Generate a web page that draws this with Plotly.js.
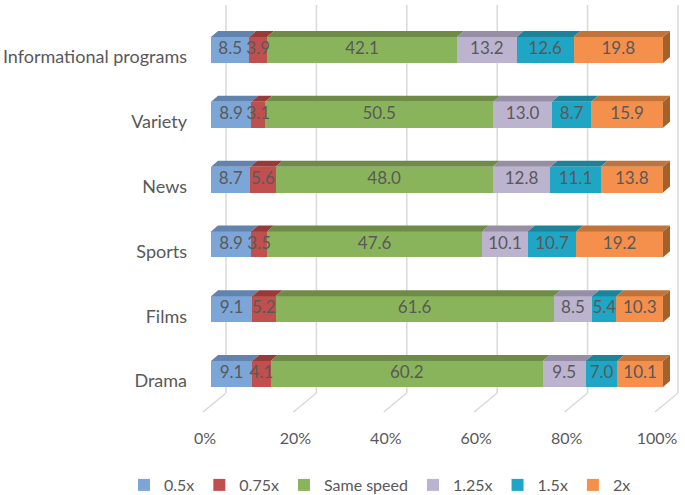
<!DOCTYPE html>
<html>
<head>
<meta charset="utf-8">
<script src="https://cdn.plot.ly/plotly-3.0.1.min.js"></script>
<style>
  html, body { margin: 0; padding: 0; background: #fff; }
  #chart { width: 685px; height: 495px; }
</style>
</head>
<body>
<div id="chart"></div>
<script>
// Data (percent of viewers per playback speed)
const categories = ['Informational programs', 'Variety', 'News', 'Sports', 'Films', 'Drama'];
const speeds = ['0.5x', '0.75x', 'Same speed', '1.25x', '1.5x', '2x'];
const speed050 = [8.5, 8.9, 8.7, 8.9, 9.1, 9.1];
const speed075 = [3.9, 3.1, 5.6, 3.5, 5.2, 4.1];
const speedSame = [42.1, 50.5, 48.0, 47.6, 61.6, 60.2];
const speed125 = [13.2, 13.0, 12.8, 10.1, 8.5, 9.5];
const speed150 = [12.6, 8.7, 11.1, 10.7, 5.4, 7.0];
const speed200 = [19.8, 15.9, 13.8, 19.2, 10.3, 10.1];
const xTicks = [0, 20, 40, 60, 80, 100];

const series = [speed050, speed075, speedSame, speed125, speed150, speed200];

// Colours: front face and darker top face
const fronts = ['#7ca6d8', '#c0504d', '#8ab45c', '#bcb3cf', '#1fa6c4', '#f48f4c'];
const tops = ['#6283ae', '#963b3a', '#6e8b48', '#958ea5', '#1e8399', '#c1733a'];
const sideColor = '#a3612c';

// Pixel geometry of the fake 3D look
const PLOT_L = 190, PLOT_T = 0, PLOT_B = 415;
const PLOT_W = 685 - PLOT_L, PLOT_H = PLOT_B - PLOT_T;
const X0PX = 211, X100PX = 663;
const k = (X100PX - X0PX) / 100;          // px per percent
const ROW = 64.8, ROW0 = 50;               // px between rows, centre of first row
const DX = 7 / k, DY = 6 / ROW;            // bar depth in data units
const BAR_W = 0.4;
const px2y = p => (p - ROW0) / ROW;

const rows = categories.map((_, i) => i);
const totals = rows.map(i => series.reduce((s, arr) => s + arr[i], 0));

const traces = series.map((vals, s) => ({
  type: 'bar',
  orientation: 'h',
  name: speeds[s],
  x: vals,
  y: rows,
  width: BAR_W,
  marker: { color: fronts[s], line: { width: 0 } },
  hoverinfo: 'skip'
}));

// value labels on the front faces
const labX = [], labY = [], labT = [];
const shapes = [];
rows.forEach(i => {
  let acc = 0;
  series.forEach((vals, s) => {
    const a = acc / totals[i] * 100;
    acc += vals[i];
    const b = acc / totals[i] * 100;
    labX.push((a + b) / 2);
    labY.push(i);
    labT.push(vals[i].toFixed(1));
    const yt = i - BAR_W / 2;
    shapes.push({
      type: 'path', xref: 'x', yref: 'y', layer: 'above',
      path: `M${a},${yt} L${b},${yt} L${b + DX},${yt - DY} L${a + DX},${yt - DY} Z`,
      fillcolor: tops[s], line: { width: 0 }
    });
    if (s === series.length - 1) {
      const yb = i + BAR_W / 2;
      shapes.push({
        type: 'path', xref: 'x', yref: 'y', layer: 'above',
        path: `M${b},${yt} L${b + DX},${yt - DY} L${b + DX},${yb - DY} L${b},${yb} Z`,
        fillcolor: sideColor, line: { width: 0 }
      });
    }
  });
});

// back-wall gridlines and floor diagonals
const backOff = 15 / k, frontOff = -8 / k;
xTicks.forEach(v => {
  shapes.push({
    type: 'line', xref: 'x', yref: 'y', layer: 'below',
    x0: v + backOff, x1: v + backOff, y0: px2y(5), y1: px2y(393),
    line: { color: '#d9d9d9', width: 1.5 }
  });
  shapes.push({
    type: 'line', xref: 'x', yref: 'y', layer: 'below',
    x0: v + backOff, x1: v + frontOff, y0: px2y(393), y1: px2y(412),
    line: { color: '#d9d9d9', width: 1.5 }
  });
});

traces.push({
  type: 'scatter', mode: 'text', x: labX, y: labY, text: labT,
  textfont: { family: 'Lato, sans-serif', size: 17, color: '#595959' },
  showlegend: false, hoverinfo: 'skip', cliponaxis: false
});

const layout = {
  width: 685, height: 495,
  margin: { l: PLOT_L, r: 0, t: PLOT_T, b: 495 - PLOT_B, autoexpand: false },
  paper_bgcolor: '#fff', plot_bgcolor: '#fff',
  font: { family: 'Lato, sans-serif', color: '#595959' },
  barmode: 'stack',
  barnorm: 'percent',
  showlegend: true,
  xaxis: {
    range: [-(X0PX - PLOT_L) / k, (685 - X0PX) / k],
    tickvals: xTicks, ticktext: xTicks.map(v => v + '%'),
    showgrid: false, zeroline: false, showline: false, ticks: '',
    tickfont: { size: 16, color: '#595959' },
    ticklabelshift: -6, ticklabelstandoff: 12, fixedrange: true
  },
  yaxis: {
    range: [px2y(PLOT_B), px2y(PLOT_T)],
    tickvals: rows, ticktext: categories,
    showgrid: false, zeroline: false, showline: false, ticks: '',
    tickfont: { size: 18, color: '#595959' },
    ticklabelshift: -7, ticklabelstandoff: 2, fixedrange: true
  },
  legend: {
    orientation: 'h', xref: 'paper', yref: 'paper',
    x: (124 - PLOT_L) / PLOT_W, xanchor: 'left',
    y: -(485 - PLOT_B) / PLOT_H, yanchor: 'middle',
    font: { size: 16, color: '#595959' }, traceorder: 'normal',
    itemwidth: 30
  },
  shapes: shapes
};

Plotly.newPlot('chart', traces, layout, { displayModeBar: false, staticPlot: true });
</script>
</body>
</html>
